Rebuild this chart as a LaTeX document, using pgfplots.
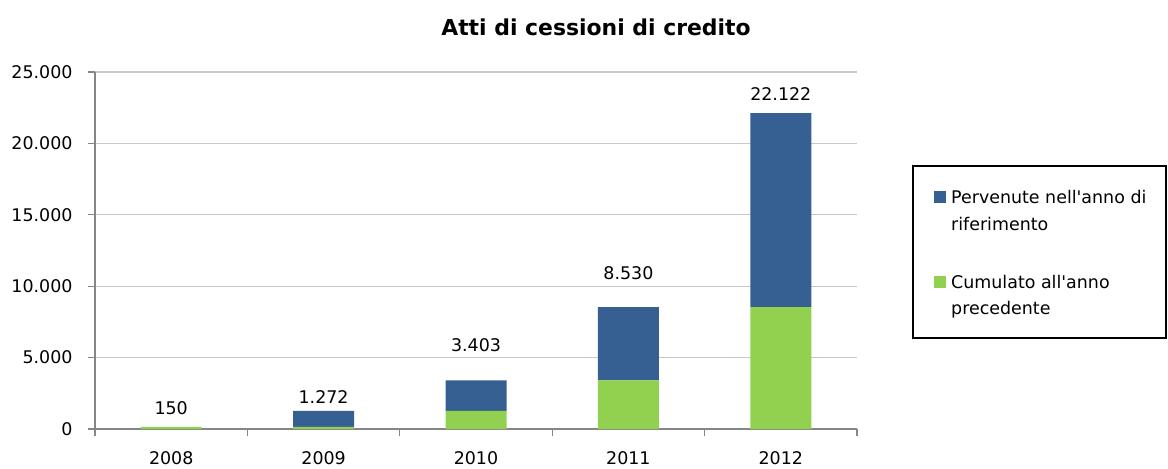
\documentclass[border=0pt]{standalone}
\usepackage{pgfplots}
\pgfplotsset{compat=1.18}
\usepackage{fontspec}
\setmainfont{DejaVu Sans}
\definecolor{barblue}{RGB}{55,96,146}
\definecolor{bargreen}{RGB}{146,208,80}
\definecolor{axgray}{RGB}{134,134,134}
\definecolor{gridgray}{RGB}{200,200,200}
\newcommand{\fnt}{\fontsize{17.5}{26}\selectfont}
\begin{document}
\begin{tikzpicture}[font=\fnt]
\begin{axis}[
  scale only axis, width=762bp, height=357bp,
  ybar stacked, bar width=61bp, clip=false,
  xmin=-0.5, xmax=4.5, ymin=0, ymax=25000,
  xtick={0,1,2,3,4}, xticklabels={2008,2009,2010,2011,2012},
  minor xtick={-0.5,0.5,1.5,2.5,3.5,4.5},
  ytick={0,5000,10000,15000,20000,25000},
  scaled y ticks=false,
  yticklabel style={xshift=-12bp, /pgf/number format/1000 sep={.}, /pgf/number format/assume math mode=true},
  axis x line*=bottom, axis y line*=left,
  axis line style={axgray, line width=1.2bp},
  tick align=outside,
  major tick length=7bp, minor tick length=7bp,
  tick style={axgray, line width=1.2bp},
  xtick style={draw=none},
  minor x tick style={axgray, draw=axgray, line width=1.2bp},
  ymajorgrids, grid style={gridgray, line width=1.2bp},
  xticklabel style={yshift=-12bp},
]
\addplot[fill=bargreen, draw=none] coordinates {(0,150) (1,150) (2,1272) (3,3403) (4,8530)};
\addplot[fill=barblue, draw=none] coordinates {(0,0) (1,1122) (2,2131) (3,5127) (4,13592)};
\coordinate (SW) at (rel axis cs:0,0);
\end{axis}
\begin{axis}[
  scale only axis, width=762bp, height=357bp, hide axis, clip=false,
  xmin=-0.5, xmax=4.5, ymin=0, ymax=25000,
]
\addplot[draw=none, mark=none, point meta=explicit,
  visualization depends on={\thisrow{off}\as\labeloff},
  nodes near coords={\pgfmathprintnumber[1000 sep={.},assume math mode=true]{\pgfplotspointmeta}},
  nodes near coords style={anchor=base, yshift=\labeloff bp, text=black, font=\fnt}]
  table[x=x, y=y, meta=lab] {
x y lab off
0 150 150 12
1 1272 1272 7.4
2 3403 3403 29
3 8530 8530 28
4 22122 22122 12.6
};
\end{axis}
% title
\node[font=\bfseries\fontsize{22}{26}\selectfont, anchor=base] at ([shift={(501bp,393bp)}]SW) {Atti di cessioni di credito};
% legend
\draw[black, line width=1.2bp] ([shift={(818bp,91bp)}]SW) rectangle ([shift={(1071bp,263bp)}]SW);
\fill[barblue] ([shift={(839bp,226bp)}]SW) rectangle ([shift={(851bp,238bp)}]SW);
\node[anchor=base west, inner sep=0pt] at ([shift={(856bp,225bp)}]SW) {Pervenute nell\textquotesingle anno di};
\node[anchor=base west, inner sep=0pt] at ([shift={(856bp,198bp)}]SW) {riferimento};
\fill[bargreen] ([shift={(839bp,141bp)}]SW) rectangle ([shift={(851bp,153bp)}]SW);
\node[anchor=base west, inner sep=0pt] at ([shift={(856bp,140bp)}]SW) {Cumulato all\textquotesingle anno};
\node[anchor=base west, inner sep=0pt] at ([shift={(856bp,114bp)}]SW) {precedente};
\pgfresetboundingbox
\path ([shift={(-95bp,-40bp)}]SW) rectangle ([shift={(1073bp,429bp)}]SW);
\end{tikzpicture}
\end{document}
